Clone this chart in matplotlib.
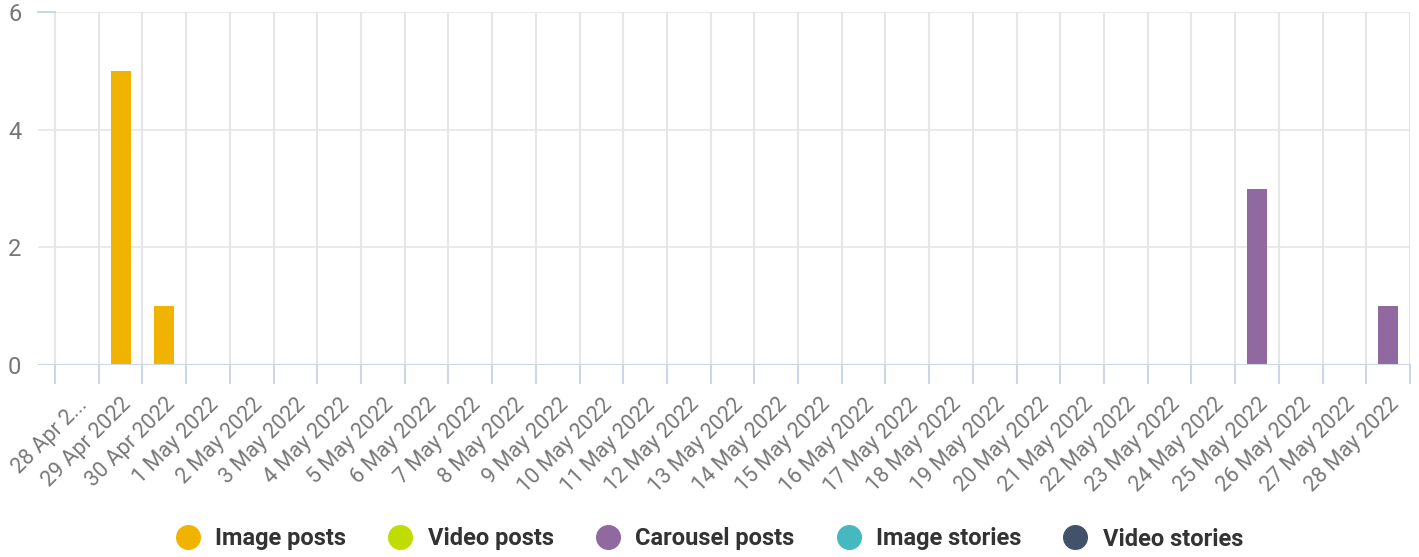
import numpy as np
import pandas as pd
import matplotlib
matplotlib.use("Agg")
import matplotlib.pyplot as plt
from matplotlib.lines import Line2D

plt.rcParams['font.family'] = ['Roboto', 'DejaVu Sans']

# daily post counts, 28 Apr - 28 May 2022
dates = pd.date_range("2022-04-28", "2022-05-28", freq="D")
day_labels = ["%d %s %d" % (d.day, d.strftime("%b"), d.year) for d in dates]
day_labels[0] = "28 Apr 2..."

series_names = ["Image posts", "Video posts", "Carousel posts", "Image stories", "Video stories"]
series_colors = ["#f0b400", "#c0dc00", "#9069a0", "#45b8c0", "#42526a"]

image_posts = [0, 5, 1] + [0] * 28
video_posts = [0] * 31
carousel_posts = [0] * 27 + [3, 0, 0, 1]
image_stories = [0] * 31
video_stories = [0] * 31

values = [image_posts, video_posts, carousel_posts, image_stories, video_stories]
yticks = [0, 2, 4, 6]

W, H = 1419, 557
fig = plt.figure(figsize=(W / 100, H / 100), dpi=100)
ax = fig.add_axes([38 / W, 1 - 365 / H, (1410 - 38) / W, (365 - 12) / H])

x = np.arange(len(dates))
bottom = np.zeros(len(dates))
for name, col, vals in zip(series_names, series_colors, values):
    v = np.array(vals, dtype=float)
    ax.bar(x, v, width=0.46, bottom=bottom, color=col, zorder=3, linewidth=0)
    bottom += v

n = len(dates)
pad = 17 / 43.7
ax.set_xlim(-0.5 - pad, n - 0.5)
ax.set_ylim(0, 6)

# horizontal grid
for yv in yticks[1:]:
    ax.axhline(yv, color="#e6e6e6", lw=1.2, zorder=1)
ax.plot([-0.5 - pad, -0.5], [6, 6], color="#ccd6eb", lw=1.5, zorder=2, clip_on=False)
# category boundaries
for b in np.arange(n + 1) - 0.5:
    ax.plot([b, b], [0, 6], color="#e6e6e6", lw=1.5, zorder=1)
    ax.plot([b, b], [0, -0.3], color="#ccd6eb", lw=1.5, clip_on=False, zorder=2)
ax.axhline(0, color="#ccd6eb", lw=1.5, zorder=4)

for s in ax.spines.values():
    s.set_visible(False)

ax.set_yticks(yticks)
ax.set_yticklabels([str(t) for t in yticks], fontsize=17, color="#777777")
ax.tick_params(axis="y", length=0, pad=12)

ax.set_xticks(x)
ax.set_xticklabels(day_labels, rotation=45, ha="right", va="top", rotation_mode="anchor",
                   fontsize=15.5, color="#777777")
ax.tick_params(axis="x", length=0, pad=21)

handles = [Line2D([], [], marker="o", ls="", markersize=17, color=c) for c in series_colors]
leg = fig.legend(handles, series_names, loc="center", bbox_to_anchor=(0.5, 1 - 539 / H),
                 ncol=5, frameon=False, handlelength=1.0, handletextpad=0.65, columnspacing=1.8,
                 prop={"family": "Roboto", "weight": "bold", "size": 17})
for t in leg.get_texts():
    t.set_color("#333333")

fig.savefig("out.png", dpi=100, facecolor="white")
